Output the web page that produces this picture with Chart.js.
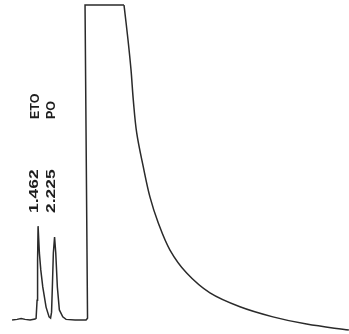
<!DOCTYPE html>
<html>
<head>
<meta charset="utf-8">
<script src="https://cdn.jsdelivr.net/npm/chart.js@4/dist/chart.umd.min.js"></script>
<style>
  html, body { margin: 0; padding: 0; background: #fff; }
</style>
</head>
<body>
<canvas id="chrom" width="349" height="334"></canvas>
<script>
// retention times (min) and compound names written above the two small peaks
const retentionTimes = [1.462, 2.225];
const compounds = ['ETO', 'PO'];

// baseline, the two analyte peaks and the clipped solvent front
const peakTimes  = [0.260, 0.491, 0.676, 0.861, 1.092, 1.323, 1.370, 1.416, 1.439, 1.462, 1.522, 1.587, 1.679, 1.832, 1.971, 2.040,
                    2.086, 2.123, 2.169, 2.225, 2.280, 2.354, 2.447, 2.604, 2.757, 3.173, 3.682, 3.751, 3.635, 5.439];
const peakSignal = [0, 0.2, 0.5, 0.2, 0, 0.3, 0.5, 6.3, 19.0, 29.8, 21.3, 15.9, 10.5, 4.1, 1.0, 0.6,
                    2.5, 10.5, 21.3, 26.3, 21.3, 10.5, 3.2, 1.0, 0.2, 0, 0, 0.6, 100, 100];

// solvent tail
const tailTimes  = [5.439, 5.624, 5.763, 5.869, 6.026, 6.331, 6.641, 7.025, 7.566, 8.338, 9.416, 10.803, 12.329, 13.887, 15.844];
const tailSignal = [100, 88.9, 79.4, 69.8, 59.4, 48.6, 39.0, 30.8, 22.2, 14.9, 8.6, 4.2, 1.0, -1.3, -3.2];

const toPoints = (xs, ys) => xs.map((x, i) => ({ x: x, y: ys[i] }));

// draws the rotated labels over the peaks
const peakLabels = {
  id: 'peakLabels',
  afterDatasetsDraw(chart) {
    const ctx = chart.ctx;
    const xs = chart.scales.x, ys = chart.scales.y;
    ctx.save();
    ctx.fillStyle = '#1e1e1e';
    ctx.textBaseline = 'middle';
    ctx.textAlign = 'left';
    retentionTimes.forEach((t, i) => {
      const px = xs.getPixelForValue(t) - 3;
      // retention time, stretched along its length like the original print
      ctx.save();
      ctx.translate(px, ys.getPixelForValue(34.0));
      ctx.rotate(-Math.PI / 2);
      ctx.scale(1.45, 1);
      ctx.font = 'bold 12px "Liberation Sans", Arial, sans-serif';
      ctx.fillText(t.toFixed(3), 0, 0);
      ctx.restore();
      // compound name
      ctx.save();
      ctx.translate(px, ys.getPixelForValue(63.8));
      ctx.rotate(-Math.PI / 2);
      ctx.font = 'bold 12.5px "Liberation Sans", Arial, sans-serif';
      ctx.fillText(compounds[i], 0, 0);
      ctx.restore();
    });
    ctx.restore();
  }
};

new Chart(document.getElementById('chrom'), {
  type: 'line',
  data: {
    datasets: [
      { label: 'peaks', data: toPoints(peakTimes, peakSignal), borderColor: '#2a2a2a', borderWidth: 1.5, pointRadius: 0, tension: 0, fill: false },
      { label: 'tail', data: toPoints(tailTimes, tailSignal), borderColor: '#2a2a2a', borderWidth: 1.5, pointRadius: 0, tension: 0.35, fill: false }
    ]
  },
  options: {
    responsive: false,
    animation: false,
    layout: { padding: 0 },
    plugins: { legend: { display: false }, tooltip: { enabled: false } },
    scales: {
      x: { type: 'linear', min: -0.3, max: 15.85, display: false },
      y: { min: -4.44, max: 101.6, display: false }
    }
  },
  plugins: [peakLabels]
});
</script>
</body>
</html>
